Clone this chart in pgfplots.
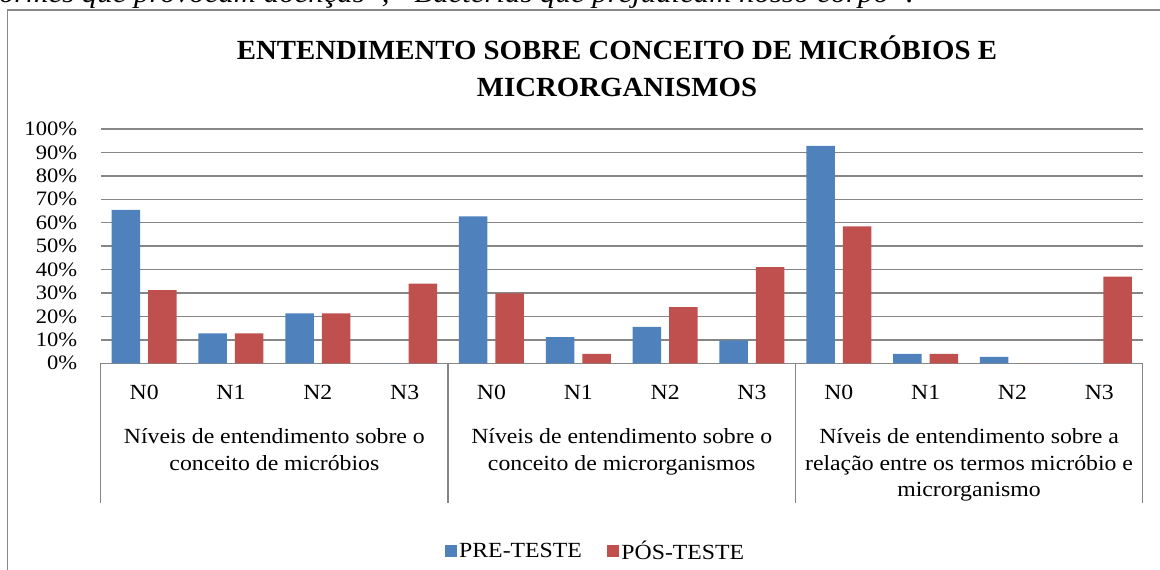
\documentclass[border=0pt]{standalone}
\usepackage{fontspec}
\setmainfont{Liberation Serif}[FakeStretch=1.1]
\newfontfamily\titlefont{Liberation Serif}[FakeStretch=1.04]
\newfontfamily\topfont{Liberation Serif}[FakeStretch=1.1]
\usepackage{pgfplots}
\pgfplotsset{compat=1.18}
\definecolor{preblue}{HTML}{4F81BD}
\definecolor{posred}{HTML}{C0504D}
\definecolor{gridgray}{HTML}{868686}
\definecolor{framegray}{HTML}{898989}
\newcommand{\lab}{\fontsize{20.5pt}{26.7pt}\selectfont}
\newcommand{\glab}{\fontsize{21.6pt}{26.7pt}\selectfont}
\begin{document}
\begin{tikzpicture}[x=1pt,y=1pt]
\useasboundingbox (0,0) rectangle (1160,570);
\clip (0,0) rectangle (1160,570);
\draw[framegray, line width=1.4pt] (7.3,-5) -- (7.3,560) -- (1170,560);
\node[anchor=base east, inner sep=0pt, font=\topfont\itshape\fontsize{28pt}{30pt}\selectfont] at (914,567) {formes que provocam doenças”, “Bactérias que prejudicam nosso corpo”.};
\node[anchor=base, inner sep=0pt, font=\titlefont\bfseries\fontsize{27.7pt}{33pt}\selectfont] at (617,510) {ENTENDIMENTO SOBRE CONCEITO DE MICRÓBIOS E};
\node[anchor=base, inner sep=0pt, font=\titlefont\bfseries\fontsize{27.7pt}{33pt}\selectfont] at (617,473.3) {MICRORGANISMOS};
\begin{axis}[at={(100.7pt,206.7pt)}, anchor=south west, scale only axis,
  width=1042pt, height=234.3pt,
  xmin=-0.5, xmax=11.5, ymin=0, ymax=100, clip=false,
  axis line style={draw=none}, major tick length=0pt,
  ytick={0,10,20,30,40,50,60,70,80,90,100},
  yticklabels={0\%,10\%,20\%,30\%,40\%,50\%,60\%,70\%,80\%,90\%,100\%},
  ymajorgrids, grid style={gridgray, line width=1.3pt},
  yticklabel style={font=\lab, anchor=east, inner sep=0pt, xshift=-23.4pt},
  xtick={0,1,2,3,4,5,6,7,8,9,10,11},
  xticklabels={N0,N1,N2,N3,N0,N1,N2,N3,N0,N1,N2,N3},
  xticklabel style={font=\glab, anchor=base, inner sep=0pt, yshift=-36.7pt},
  legend columns=2,
  legend style={draw=none, fill=none, inner sep=0pt, font=\glab,
    at={(0.3304,-0.801)}, anchor=west,
    nodes={inner sep=2.5pt},
    /tikz/every even column/.append style={column sep=23pt}},
]
\addplot[ybar, bar width=28.5pt, bar shift=-18.25pt, fill=preblue, draw=none,
  legend image code/.code={\fill[preblue] (0pt,-5.8pt) rectangle (11.5pt,5.8pt);}]
  coordinates {(0,65.5) (1,12.8) (2,21.3) (3,0) (4,62.7) (5,11.2) (6,15.5) (7,9.8) (8,92.8) (9,4.0) (10,2.7) (11,0)};
\addlegendentry{PRE-TESTE}
\addplot[ybar, bar width=28.5pt, bar shift=18.25pt, fill=posred, draw=none,
  legend image code/.code={\fill[posred] (0pt,-5.8pt) rectangle (11.5pt,5.8pt);}]
  coordinates {(0,31.2) (1,12.8) (2,21.3) (3,34.0) (4,29.8) (5,4.0) (6,24.0) (7,41.1) (8,58.4) (9,4.0) (10,0) (11,37.0)};
\addlegendentry{PÓS-TESTE}
\draw[gridgray, line width=1.3pt] (axis cs:-0.5,0) -- ++(0pt,-139.7pt);
\draw[gridgray, line width=1.3pt] (axis cs:3.5,0) -- ++(0pt,-139.7pt);
\draw[gridgray, line width=1.3pt] (axis cs:7.5,0) -- ++(0pt,-139.7pt);
\draw[gridgray, line width=1.3pt] (axis cs:11.5,0) -- ++(0pt,-139.7pt);
\node[anchor=base, inner sep=0pt, font=\glab, yshift=-80pt] at (axis cs:1.5,0) {Níveis de entendimento sobre o};
\node[anchor=base, inner sep=0pt, font=\glab, yshift=-106.7pt] at (axis cs:1.5,0) {conceito de micróbios};
\node[anchor=base, inner sep=0pt, font=\glab, yshift=-80pt] at (axis cs:5.5,0) {Níveis de entendimento sobre o};
\node[anchor=base, inner sep=0pt, font=\glab, yshift=-106.7pt] at (axis cs:5.5,0) {conceito de microrganismos};
\node[anchor=base, inner sep=0pt, font=\glab, yshift=-80pt] at (axis cs:9.5,0) {Níveis de entendimento sobre a};
\node[anchor=base, inner sep=0pt, font=\glab, yshift=-106.7pt] at (axis cs:9.5,0) {relação entre os termos micróbio e};
\node[anchor=base, inner sep=0pt, font=\glab, yshift=-133.4pt] at (axis cs:9.5,0) {microrganismo};
\end{axis}
\end{tikzpicture}
\end{document}
